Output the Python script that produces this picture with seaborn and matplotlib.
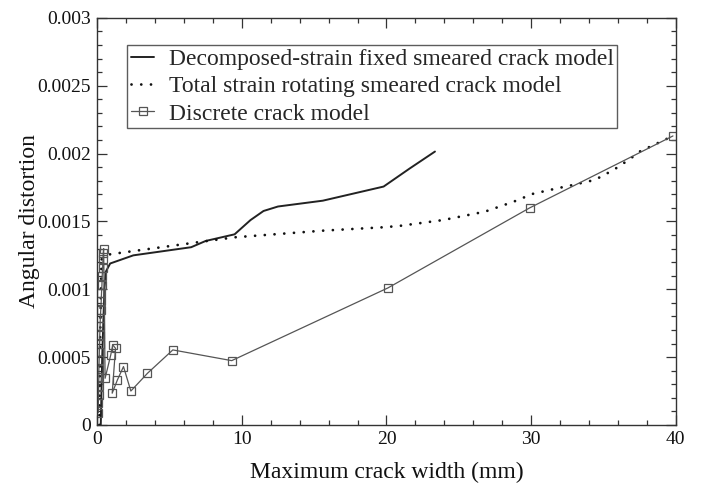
import matplotlib
matplotlib.use("Agg")
import matplotlib.pyplot as plt
import numpy as np
import pandas as pd
import seaborn as sns
from matplotlib.ticker import MultipleLocator, FixedLocator, FixedFormatter

# ---------------- data ----------------
series_labels = [
    "Decomposed-strain fixed smeared crack model",
    "Total strain rotating smeared crack model",
    "Discrete crack model",
]

fixed_x = [0.25, 0.35, 0.5, 0.6, 0.9, 2.5, 6.5, 7.5, 9.5, 10.6, 11.5, 12.5, 15.6, 19.8, 21.6, 23.35]
fixed_y = [0.0, 0.0005, 0.001, 0.00113, 0.00119, 0.00125, 0.00131, 0.001356, 0.001405,
           0.00151, 0.001577, 0.00161, 0.001653, 0.001757, 0.00189, 0.002015]

rot_x = [0.15, 0.2, 0.3, 0.9, 6.5, 9.5, 15.6, 19.8, 20.9, 23.9, 26.8, 28.8, 30.1, 31.5,
         32.9, 34.4, 35.7, 36.8, 37.5, 39.8]
rot_y = [0.0, 0.0006, 0.00122, 0.001258, 0.00134, 0.001383, 0.001432, 0.001457, 0.001467,
         0.00151, 0.001572, 0.001646, 0.001703, 0.001737, 0.001769, 0.001806, 0.00188,
         0.001958, 0.002015, 0.00213]

disc_x = [0.08, 0.08, 0.1, 0.1, 0.12, 0.12, 0.14, 0.15, 0.17, 0.18, 0.2, 0.22, 0.25, 0.28,
          0.3, 0.33, 0.35, 0.38, 0.4, 0.42, 0.45,
          0.55, 0.94, 1.08, 1.27, 1.04, 1.4, 1.82, 2.33, 3.48, 5.23, 9.3, 20.1, 29.9, 39.8]
disc_y = [0.00009, 0.00016, 0.00022, 0.00029, 0.00035, 0.00041, 0.00048, 0.00054, 0.0006,
          0.00066, 0.00073, 0.00079, 0.00085, 0.00091, 0.00097, 0.00103, 0.0011, 0.00116,
          0.00122, 0.00127, 0.0013,
          0.000344, 0.000516, 0.00059, 0.000565, 0.000234, 0.000332, 0.00043, 0.00025,
          0.000381, 0.000553, 0.000474, 0.00101, 0.0016, 0.00213]

x_ticks = [0, 10, 20, 30, 40]
x_tick_labels = ["0", "10", "20", "30", "40"]
y_ticks = [0, 0.0005, 0.001, 0.0015, 0.002, 0.0025, 0.003]
y_tick_labels = ["0", "0.0005", "0.001", "0.0015", "0.002", "0.0025", "0.003"]
x_label = "Maximum crack width (mm)"
y_label = "Angular distortion"

# ---------------- style ----------------
sns.set_theme(style="ticks")
plt.rcParams["font.family"] = ["Liberation Serif", "DejaVu Serif"]
plt.rcParams["axes.edgecolor"] = "#333333"
plt.rcParams["axes.linewidth"] = 1.0

fig = plt.figure(figsize=(7.04, 4.84), dpi=100)
ax = fig.add_axes([0.138, 0.122, 0.960 - 0.138, 0.963 - 0.122])

df_fixed = pd.DataFrame({"x": fixed_x, "y": fixed_y})
df_rot = pd.DataFrame({"x": rot_x, "y": rot_y})
df_disc = pd.DataFrame({"x": disc_x, "y": disc_y})

sns.lineplot(data=df_fixed, x="x", y="y", sort=False, estimator=None, ax=ax,
             color="#222222", linewidth=1.4, label=series_labels[0])
sns.lineplot(data=df_rot, x="x", y="y", sort=False, estimator=None, ax=ax,
             color="#111111", linewidth=2.0, linestyle=(0, (0.01, 3.5)),
             dash_capstyle="round", label=series_labels[1])
sns.lineplot(data=df_disc, x="x", y="y", sort=False, estimator=None, ax=ax,
             color="#555555", linewidth=0.9, marker="s", markersize=5.3,
             markerfacecolor="none", markeredgecolor="#555555", markeredgewidth=0.9,
             label=series_labels[2])

ax.set_xlim(0, 40)
ax.set_ylim(0, 0.003)
ax.xaxis.set_major_locator(FixedLocator(x_ticks))
ax.xaxis.set_major_formatter(FixedFormatter(x_tick_labels))
ax.yaxis.set_major_locator(FixedLocator(y_ticks))
ax.yaxis.set_major_formatter(FixedFormatter(y_tick_labels))
ax.xaxis.set_minor_locator(MultipleLocator(2))
ax.yaxis.set_minor_locator(MultipleLocator(0.0001))
ax.tick_params(which="both", direction="in", top=True, right=True, color="#333333",
               width=0.9)
ax.tick_params(which="major", length=7, labelsize=14, pad=4.5, labelcolor="#111111")
ax.tick_params(which="minor", length=3.6)

ax.set_xlabel(x_label, fontsize=17, color="#111111", labelpad=10)
ax.set_ylabel(y_label, fontsize=17, color="#111111", labelpad=-2)

leg = ax.legend(loc="upper left", bbox_to_anchor=(0.052, 0.934), borderaxespad=0,
                fontsize=17, frameon=True, fancybox=False, handlelength=1.0,
                handletextpad=0.6, labelspacing=0.25, borderpad=0.15)
leg.get_frame().set_edgecolor("#333333")
leg.get_frame().set_linewidth(1.0)

fig.savefig("out.png", dpi=100)
